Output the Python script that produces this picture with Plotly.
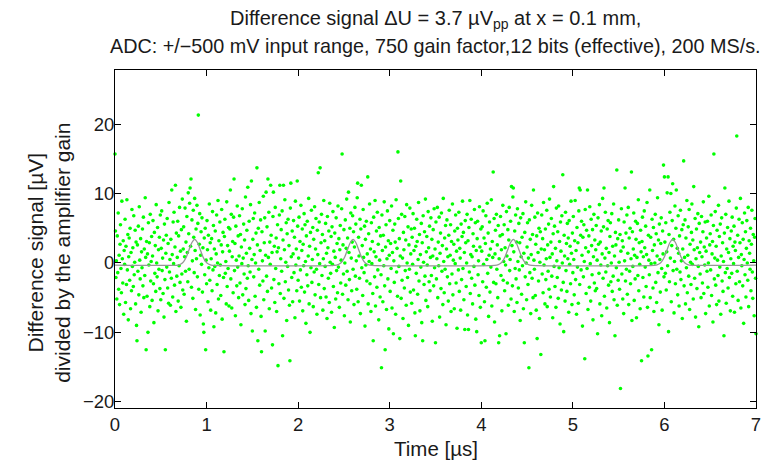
import plotly.graph_objects as go

# ---------------- data ----------------
sample_rate_MSps = 200          # 200 MS/s -> 5 ns per sample
measured_uV = [
    # 0.00 - 0.25 us
    15.7, 4.6, -2.1, 0.3, -5.2, 3.9, -1.4, 7.2, -3.8, 1.1,
    -6.0, 2.7, 5.5, -0.8, -4.3, 8.9, 0.6, -2.9, 3.2, -7.4,
    1.8, -0.2, 6.3, -5.7, 2.4, -3.1, 9.1, -1.0, 4.1, -8.2,
    0.9, 3.6, -2.5, 5.0, -6.6, 1.5, -4.0, 7.7, -0.5, 2.2,
    -3.4, 6.8, -1.7, 0.1, 4.7, -5.9, 3.0, -9.0, -11.2, 2.6,
    # 0.25 - 0.50
    -1.2, 5.3, -4.6, 8.1, 0.4, -2.3, 3.5, -7.1, 1.6, -0.7,
    4.9, -3.3, 6.6, -5.0, 2.0, -1.8, 9.4, 0.8, -12.5, 3.1,
    -4.8, 1.3, -10.0, 5.8, -0.3, 2.9, -6.3, 7.0, -2.6, 0.2,
    3.8, -5.4, 1.0, 6.1, -3.0, -8.6, 4.4, -1.5, 2.5, -4.1,
    8.4, 0.0, -2.0, 5.1, -6.9, 1.9, -0.9, 3.7, -3.7, 6.9,
    # 0.50 - 0.75
    -5.3, 2.1, 7.5, -1.1, 0.7, -4.4, 3.3, -7.8, 5.6, -2.4,
    -12.5, 1.4, 4.0, -0.6, 6.4, -3.6, 2.8, -5.8, 8.7, -1.3,
    0.5, -6.1, 3.4, -2.2, 10.5, 1.2, -4.9, 5.9, -0.1, 7.3,
    -3.2, 2.3, 11.2, -7.0, 4.3, -1.9, 0.8, 6.0, -5.5, 3.9,
    -0.4, 8.0, -2.8, 1.7, -6.4, 4.8, -1.6, 9.2, -3.9, 2.0,
    # 0.75 - 1.00
    5.2, -4.5, 0.9, 7.9, -1.2, 3.0, -8.4, 6.7, 1.5, -2.7,
    10.1, 4.2, -0.9, 8.6, 10.8, 2.4, 12.1, -3.5, 6.2, 0.3,
    -5.1, 7.6, 3.7, -1.4, 9.3, 1.8, -6.7, 4.9, 0.6, 8.3,
    -2.0, 5.7, 21.3, -3.8, 2.7, 7.1, -7.5, 1.1, 4.5, -0.2,
    6.5, -4.2, 2.2, -8.8, -10.0, 3.6, -1.7, 5.0, -12.5, 0.4,
    # 1.00 - 1.25
    -3.0, 6.1, 1.9, -5.6, 4.0, -0.7, 8.5, -2.5, 2.9, -6.8,
    0.6, 3.5, -4.0, 7.4, -1.0, 5.4, -9.2, 2.0, -0.5, 4.6,
    -7.2, 1.3, 6.9, -3.1, 0.0, 9.0, -5.2, 3.2, -1.8, 5.9,
    -0.3, -4.7, 2.6, 7.7, -8.1, 1.6, 4.4, -2.1, -12.8, 3.8,
    6.3, -1.5, 0.2, -5.9, 8.8, -3.4, 2.5, -0.8, 5.1, -6.2,
    # 1.25 - 1.50
    1.7, 4.9, 10.5, -2.3, 7.0, -6.5, 0.9, 3.1, -4.3, 6.6,
    12.1, -1.1, 2.8, -7.6, 5.3, 0.4, -3.3, 8.2, -0.6, 3.9,
    -5.0, 1.0, 6.8, -2.9, 4.1, -8.9, 2.3, -0.1, 7.8, -4.6,
    0.7, 5.6, -1.6, 3.3, -6.0, 9.5, -3.7, 1.4, 4.7, -2.2,
    10.9, -0.4, -5.4, 6.0, 2.1, -1.3, 8.4, -7.3, 11.8, 0.5,
    # 1.50 - 1.75
    -9.8, 3.4, 6.4, -2.0, 1.2, 7.2, -4.8, 0.0, 4.3, -6.4,
    13.7, 2.6, -11.2, 5.0, -0.9, 8.7, -3.2, 1.8, 6.2, -7.7,
    -12.8, 4.5, 0.3, -2.6, 9.6, -5.3, 2.9, 6.5, -9.8, 1.1,
    10.2, -1.9, 5.2, -4.1, 12.1, 0.8, 7.3, -6.6, 3.0, -0.2,
    11.2, 4.0, -3.6, 1.5, -11.8, 6.7, 10.2, -2.4, 2.4, -5.7,
    # 1.75 - 2.00
    8.0, -0.8, 3.6, -7.0, 1.6, 5.5, -14.8, 2.2, -3.0, 6.9,
    11.2, -4.4, 0.6, 4.8, -1.2, 7.5, -10.5, 3.3, 11.2, -5.1,
    1.9, 9.1, -2.7, 0.1, 5.8, -8.3, 4.2, -0.5, 6.3, -3.9,
    2.5, -6.1, -14.1, 7.9, 11.5, 0.9, -2.1, 4.6, -5.6, 1.3,
    6.1, -1.4, 3.7, -7.9, 8.9, -0.3, 2.0, -4.0, 11.8, 5.3,
    # 2.00 - 2.25
    -2.5, 0.7, 6.6, -5.5, 3.1, -1.0, 8.3, -3.5, 1.8, 4.9,
    -6.9, 2.7, -0.4, 7.1, -4.2, 5.5, 0.2, -8.7, 3.9, -1.7,
    6.0, -3.3, 1.0, 9.3, -5.9, 2.4, -10.0, 4.4, -0.7, 7.6,
    -2.8, 0.5, 5.1, -6.3, 3.4, -1.3, 8.1, -4.6, 2.0, 6.4,
    -0.9, -7.4, 4.7, 1.2, 13.0, -3.1, 5.9, -0.1, 13.7, -5.0,
    # 2.25 - 2.50
    2.9, 7.0, -1.8, 4.1, -6.8, 0.6, 9.0, -3.7, 3.2, -0.5,
    5.7, -4.9, 1.4, -8.0, 6.7, 2.2, -2.2, 4.6, -5.7, 8.6,
    0.1, -1.5, 3.8, -7.1, 5.2, -0.2, 7.4, -3.4, 1.7, -9.3,
    4.3, 0.8, -5.2, 6.5, -1.1, 2.8, -4.3, 8.2, -0.6, 3.5,
    -6.4, 1.9, 5.4, -2.9, 0.4, 7.8, 15.7, -4.5, 2.6, -1.6,
    # 2.50 - 2.75
    4.8, -7.6, 0.0, 6.2, -3.2, 2.1, 9.2, -1.2, 3.6, -5.3,
    10.2, 1.5, -2.4, 5.0, -8.5, 7.2, 0.7, -4.0, 3.0, 6.8,
    -0.9, 4.5, -6.0, 2.3, 8.0, -1.9, 5.6, 0.3, -3.8, 9.4,
    11.5, -5.6, 3.7, 1.0, -2.2, 6.3, -7.3, 4.9, 11.2, -0.7,
    2.5, -4.7, 7.7, 0.8, -1.4, 5.3, -9.1, 3.4, -0.3, 6.0,
    # 2.75 - 3.00
    -2.6, 1.3, 12.4, -5.9, 4.2, 0.2, 8.5, -3.0, 2.0, -7.0,
    5.8, -0.1, 3.1, -4.4, -11.2, 6.6, 1.6, -2.0, 9.0, -6.2,
    0.9, 4.6, -3.5, 7.3, -1.0, 2.7, -8.2, 5.1, 0.4, -4.9,
    3.9, -1.7, -15.1, 6.9, 1.8, -5.6, 4.0, -0.4, 8.8, -3.3,
    -12.5, 2.3, 5.5, -6.7, 0.6, 7.5, -2.3, 3.2, -9.5, 1.1,
    # 3.00 - 3.25
    6.1, -4.1, 2.8, -0.8, 8.2, -6.5, 1.5, 4.7, -10.2, 0.3,
    -2.8, 5.6, 3.0, -7.4, 9.1, -1.3, 2.1, -4.8, 16.0, 6.4,
    -0.5, 3.5, -10.9, 1.0, 11.8, -5.1, 7.0, -2.5, 0.7, -8.0,
    4.4, 1.9, -3.6, 6.7, -1.1, 3.3, -6.1, 8.4, 0.0, -2.1,
    5.2, -9.0, 2.6, -0.9, 7.9, -4.2, 1.3, 4.9, -5.8, 3.7,
    # 3.25 - 3.50
    -0.2, 7.1, -3.9, 1.8, 5.0, -7.2, -10.5, 2.4, -1.5, 6.3,
    3.1, -4.5, 0.5, 8.7, -2.6, 4.1, -6.9, 1.2, -0.6, 5.7,
    -8.6, 2.9, -11.2, 6.8, 0.1, -3.1, 4.5, -1.9, 9.2, -5.4,
    1.6, 3.8, -0.3, -6.3, 7.4, 2.2, -2.7, 5.3, -4.0, 0.8,
    6.5, -1.8, 3.4, -8.4, 1.0, 4.8, -3.3, 7.8, -0.7, 2.0,
    # 3.50 - 3.75
    -11.5, 5.9, -2.3, 0.6, 8.0, -5.0, 3.0, -0.4, 6.6, -7.8,
    1.4, 4.3, -3.7, 7.2, -1.2, 2.5, -6.0, 9.3, 0.2, -4.3,
    3.6, -0.9, 5.4, -8.9, 2.0, 6.2, -2.0, 0.9, -5.5, 4.0,
    7.6, -3.0, 1.1, 5.5, -7.0, 3.1, -1.6, 8.5, -4.6, 0.4,
    2.7, -6.6, 4.6, -0.1, 6.9, -2.9, 1.7, -9.4, 5.0, 3.3,
    # 3.75 - 4.00
    -1.0, 7.3, -4.1, 2.1, 0.7, -6.8, 5.6, -2.4, 3.8, 8.9,
    -0.8, 4.4, -5.3, 1.5, -9.6, 6.1, 2.9, -3.4, 0.0, 7.0,
    -7.5, 3.2, -9.6, 5.1, -1.3, 9.0, -4.4, 1.2, 6.3, -2.2,
    0.9, -5.9, 4.2, 2.4, -0.5, 7.7, -3.2, 5.8, -8.1, 1.8,
    -9.9, 3.5, 6.0, -1.7, 0.3, -4.7, 8.1, 2.3, -6.4, 4.9,
    # 4.00 - 4.25
    -11.5, 1.7, 5.2, -2.7, 7.5, -0.2, 3.6, -5.6, -11.2, 2.8,
    6.8, -3.5, 0.5, 8.6, -1.5, 4.3, -7.7, 1.1, 5.9, -4.2,
    2.0, -0.6, 9.1, -6.2, 3.1, 0.8, 13.1, -2.8, 6.4, -8.5,
    1.3, 4.7, -3.0, 7.0, -0.9, 2.6, -5.0, 5.4, -11.5, 0.6,
    -10.5, 3.9, 6.7, -1.8, 1.9, -6.9, 4.1, 8.3, -2.5, 0.2,
    # 4.25 - 4.50
    5.5, -4.0, 2.2, -0.3, -10.2, 7.4, 1.0, -2.9, 4.8, -6.1,
    3.3, 8.0, -1.1, 0.5, 6.0, -5.2, 11.0, 2.5, -3.3, 9.5,
    10.8, 1.6, -7.0, 4.6, -0.8, 6.9, -2.3, 3.0, -5.7, 7.8,
    0.2, -3.6, 5.7, -1.0, 2.9, -8.3, 6.5, 0.9, -4.5, 3.7,
    -0.4, 7.1, -6.6, 1.4, -11.5, 4.4, -2.0, 8.8, 0.0, -5.3,
    # 4.50 - 4.75
    2.3, 5.8, -3.1, 0.7, -15.1, 6.2, -1.4, 3.4, -7.3, 1.2,
    8.3, -2.2, 4.1, -5.0, 10.5, 0.4, -0.9, 6.6, -4.7, 2.7,
    -6.8, 3.9, -10.9, 7.2, 1.5, -2.6, 5.0, -8.0, 0.1, 4.5,
    -13.2, 2.0, 6.9, -1.6, 3.5, -4.3, 8.7, -0.3, 1.9, -5.9,
    4.9, -2.4, 0.6, 7.6, -6.3, 2.6, -1.2, 5.6, -3.8, 9.2,
    # 4.75 - 5.00
    0.8, -4.9, 3.0, 6.4, -1.9, 1.3, -7.9, 4.2, 11.0, -0.5,
    5.3, -3.4, 2.1, -6.4, 7.9, 0.3, -2.1, 4.5, -5.1, 8.2,
    -0.7, 3.1, -8.8, 5.9, 1.7, -3.9, 6.8, 0.0, 12.7, -2.8,
    -9.9, 4.0, 1.0, -5.5, 7.3, -1.1, 2.8, -4.1, 5.7, 0.6,
    3.6, -7.1, 6.1, -0.2, 2.4, -3.0, 8.9, 1.4, -6.0, 4.3,
    # 5.00 - 5.25
    -1.4, 6.7, 0.5, -4.6, 3.2, 9.0, -2.4, 1.8, -7.4, 5.1,
    -0.6, 2.9, -5.8, 7.5, 10.8, -3.1, 10.5, 4.0, -1.0, 6.0,
    1.1, -9.1, 3.7, -2.0, 5.5, 0.2, -13.8, 7.7, 2.2, -4.4,
    4.7, -0.8, 10.5, -6.7, 1.6, 3.9, -3.5, 8.1, -0.1, -5.5,
    6.3, 2.5, -1.7, 4.8, -8.2, 0.9, 7.0, -2.9, 3.3, -4.0,
    # 5.25 - 5.50
    1.9, 5.4, -3.7, 0.4, -10.2, 6.5, 2.7, -1.5, 8.4, -5.9,
    3.0, -0.3, 4.6, -7.6, 1.3, 9.3, -2.2, 5.2, 10.8, -4.8,
    0.7, 7.3, -1.3, 2.1, -6.5, 4.9, -0.4, 6.1, -3.2, 1.5,
    -8.6, 3.8, 5.8, -2.7, 0.0, 7.1, -4.1, 2.4, -1.9, 8.5,
    -5.3, 1.0, -10.5, 4.4, 2.6, -0.7, 13.4, -6.1, 3.5, -2.5,
    # 5.50 - 5.75
    6.2, 0.1, -3.8, 4.1, -18.1, 1.7, 7.8, -1.6, 3.2, -5.2,
    2.3, -7.3, 5.9, 0.3, 10.8, -2.6, 4.3, -0.9, 6.9, -4.5,
    1.4, 8.0, -6.0, 3.6, -1.2, 5.0, -3.0, 0.6, 13.1, -8.3,
    4.5, -0.5, 2.0, 7.2, -5.4, 1.1, -2.3, 6.0, 3.4, -7.9,
    0.8, 5.7, -1.8, 9.1, -4.0, 2.9, -0.2, -6.6, 4.7, 1.6,
    # 5.75 - 6.00
    -14.1, 3.1, 6.6, -2.1, 0.9, -4.9, 7.5, 2.2, -0.6, 5.3,
    -3.4, 1.2, 8.7, -6.4, -13.4, 4.0, 0.4, -1.7, 10.5, -5.0,
    3.7, -0.1, -12.5, 6.3, 1.8, -3.6, 5.1, -7.0, 2.6, 0.0,
    7.0, -2.8, 4.2, -5.7, 1.0, 9.4, -1.4, 3.3, -8.9, 5.6,
    0.5, -4.2, 2.8, 6.5, -0.8, -6.8, 4.6, 1.3, 14.1, -2.0,
    # 6.00 - 6.25
    12.4, 3.0, -1.5, 5.8, -3.9, 1.6, 10.1, -0.4, 12.4, -9.9,
    4.1, -2.7, 7.3, 0.7, 10.0, -5.6, 2.5, 6.1, 11.4, -1.1,
    3.4, -7.2, 0.2, 8.2, -3.0, 5.0, 10.5, -0.9, 2.1, -4.6,
    6.8, 1.4, -6.2, 3.9, -1.3, 7.6, -2.4, 0.3, 4.8, -8.0,
    2.0, 5.5, 14.7, -3.3, 0.8, 6.2, -5.9, 3.6, -0.7, 9.0,
    # 6.25 - 6.50
    -4.3, 1.1, 5.2, -1.9, 7.7, -6.7, 2.7, 0.1, -3.1, 4.4,
    8.5, -0.2, 3.3, -5.2, 11.0, 1.9, -2.2, 6.4, -7.8, 0.6,
    4.9, -3.7, 2.2, 7.1, -0.5, -9.2, 5.7, 1.5, -1.6, 3.0,
    -5.0, 6.7, 0.9, -2.9, 4.5, 8.8, -4.4, 2.3, -0.3, 5.9,
    -7.3, 1.7, 3.6, -1.2, 6.0, -3.5, 0.0, 9.6, -6.2, 2.6,
    # 6.50 - 6.75
    4.2, -1.0, 6.9, -4.7, 1.3, 3.1, -8.5, 5.4, 15.7, -2.3,
    0.7, 7.4, -3.2, 2.4, -6.0, 4.7, 0.4, -1.8, 8.3, -5.5,
    3.8, -0.6, 5.6, -7.4, 1.0, 6.5, -2.6, 2.9, -4.1, 0.2,
    -10.5, 4.3, 10.8, -1.4, 7.0, -5.8, 2.0, -0.8, 5.1, -3.6,
    1.5, 8.9, -2.1, 3.5, -6.9, 0.6, 4.6, -1.5, 6.6, -4.8,
    # 6.75 - 7.00
    2.4, -0.1, 5.3, -7.1, 3.0, 1.8, -3.0, 7.9, 18.3, -1.2,
    4.0, -5.4, 0.8, 6.3, -2.7, 2.9, 9.3, -6.5, 1.2, -0.4,
    5.8, -3.3, 3.4, -8.7, 0.5, 7.2, -1.7, 4.5, -4.9, 2.1,
    6.1, 0.0, -2.5, 8.0, -6.3, 3.2, 1.4, -0.9, 5.0, -4.0,
    2.7, 7.6, -1.3, -5.1, 4.1, 0.3, -7.6, 3.7, 6.4, -2.2,
    -10.2,
]

# expected difference signal (grey curve)
baseline_uV = -0.3
pulse_centers_us = [0.87, 2.60, 4.35, 6.09]
pulse_offsets_us = [-0.18, -0.15, -0.12, -0.09, -0.06, -0.03, 0.0,
                    0.03, 0.06, 0.09, 0.12, 0.15, 0.18]
pulse_shape_uV = [0.0, 0.15, 0.5, 1.2, 2.25, 3.25, 3.7,
                  3.25, 2.25, 1.2, 0.5, 0.15, 0.0]
time_range_us = [0.0, 7.0]
value_range_uV = [-20.9, 27.8]

x_ticks = [0, 1, 2, 3, 4, 5, 6, 7]
y_ticks = [-20, -10, 0, 10, 20]

# ---------------- build ----------------
dt_us = 1.0 / sample_rate_MSps
t_us = [i * dt_us for i in range(len(measured_uV))]

line_x = [time_range_us[0]]
line_y = [baseline_uV]
for c in pulse_centers_us:
    for o, a in zip(pulse_offsets_us, pulse_shape_uV):
        line_x.append(c + o)
        line_y.append(baseline_uV + a)
line_x.append(time_range_us[1])
line_y.append(baseline_uV)

FONT = "Liberation Sans, Arial, sans-serif"
TXT = "#1a1a1a"

fig = go.Figure()
fig.add_trace(go.Scatter(
    x=t_us, y=measured_uV, mode="markers",
    marker=dict(color="rgb(0,255,0)", size=3.6, line=dict(width=0)),
    hoverinfo="skip", showlegend=False, cliponaxis=False,
))
fig.add_trace(go.Scatter(
    x=line_x, y=line_y, mode="lines",
    line=dict(color="rgb(150,150,150)", width=1.3, shape="spline", smoothing=0.6),
    hoverinfo="skip", showlegend=False,
))

fig.update_xaxes(
    range=time_range_us, tickmode="array", tickvals=x_ticks,
    showline=True, linecolor="black", linewidth=1, mirror="ticks",
    ticks="inside", ticklen=6, tickcolor="black", tickwidth=1,
    showgrid=False, zeroline=False,
    tickfont=dict(family=FONT, size=18.5, color=TXT),
)
fig.update_yaxes(
    range=value_range_uV, tickmode="array", tickvals=y_ticks,
    showline=True, linecolor="black", linewidth=1, mirror="ticks",
    ticks="inside", ticklen=6, tickcolor="black", tickwidth=1,
    showgrid=False, zeroline=False, ticklabelstandoff=-4,
    tickfont=dict(family=FONT, size=18.5, color=TXT),
)

anns = [
    dict(text="Difference signal ΔU = 3.7 µV<sub>pp</sub> at x = 0.1 mm,",
         x=0.5, y=1.150, xref="paper", yref="paper", showarrow=False,
         xanchor="center", yanchor="middle",
         font=dict(family=FONT, size=20, color=TXT)),
    dict(text="ADC: +/−500 mV input range, 750 gain factor,12 bits (effective), 200 MS/s.",
         x=0.5, y=1.071, xref="paper", yref="paper", showarrow=False,
         xanchor="center", yanchor="middle",
         font=dict(family=FONT, size=19.8, color=TXT)),
    dict(text="Time [µs]", x=0.5, y=-0.121, xref="paper", yref="paper",
         showarrow=False, xanchor="center", yanchor="middle",
         font=dict(family=FONT, size=20.5, color=TXT)),
    dict(text="Difference signal [µV]<br>divided by the amplifier gain",
         x=-0.104, y=0.46, xref="paper", yref="paper", showarrow=False,
         textangle=-90, xanchor="center", yanchor="middle",
         font=dict(family=FONT, size=21, color=TXT)),
]

# the page body has an 8 px default margin, so the figure is shrunk by 8 px
fig.update_layout(
    width=765, height=454,
    margin=dict(l=107, r=17, t=62, b=54),
    paper_bgcolor="white", plot_bgcolor="white",
    annotations=anns,
)

fig.write_html("out.html")
